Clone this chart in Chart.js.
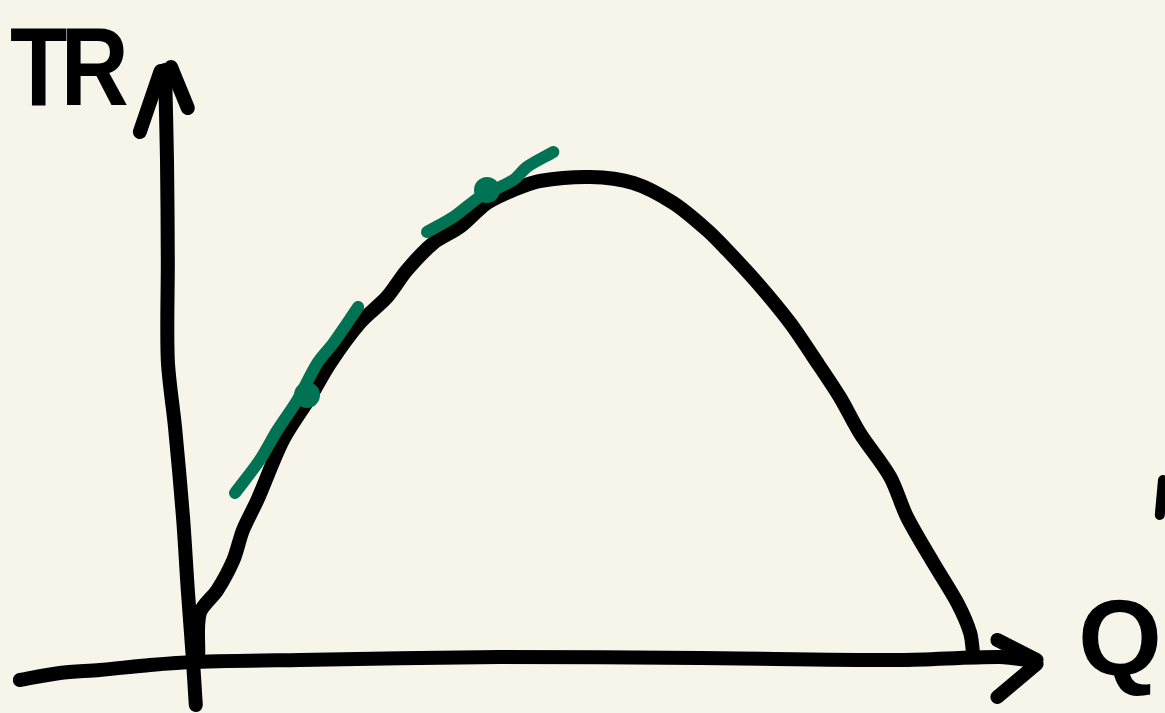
<!DOCTYPE html>
<html>
<head>
<meta charset="utf-8">
<title>Total revenue</title>
<script src="https://cdn.jsdelivr.net/npm/chart.js@4"></script>
<style>
  html, body { margin: 0; padding: 0; background: #f7f5e9; overflow: hidden; }
  .wrap { position: relative; width: 1165px; height: 713px; }
  canvas { position: absolute; left: 0; top: 0; }
  .lbl {
    position: absolute;
    font-family: "Liberation Sans", Arial, sans-serif;
    font-weight: bold;
    line-height: 1;
    color: #000;
    white-space: nowrap;
    transform-origin: left top;
  }
  #lblTR { left: 10px; top: 11px; font-size: 112px; letter-spacing: -8px; transform: scaleX(0.84); }
  #lblQ  { left: 1078px; top: 584px; font-size: 108px; }
</style>
</head>
<body>
<div class="wrap">
  <canvas id="chart" width="1165" height="713"></canvas>
  <div class="lbl" id="lblTR">TR</div>
  <div class="lbl" id="lblQ">Q</div>
</div>
<script>
// ── Data (Q along x, TR along y) ──────────────
const trCurveQ  = [0.04, 0.06, 0.28, 0.48, 0.6, 0.78, 1.1, 1.44, 1.69, 2.06, 2.4, 2.65, 2.98, 3.31, 3.65, 3.98, 4.31, 4.94, 5.48, 5.98, 6.4, 6.65, 7.03, 7.44, 7.73, 8.06, 8.31, 8.69, 8.9, 9.23, 9.53, 9.69, 9.73];
const trCurveTR = [0.35, 2.45, 3.6, 5.1, 6.6, 8.1, 11.1, 13.25, 14.95, 16.95, 18.25, 19.6, 20.95, 21.75, 22.95, 23.6, 24.05, 24.25, 23.95, 22.95, 21.6, 20.6, 18.95, 16.95, 15.25, 13.25, 11.45, 9.25, 7.25, 4.95, 2.95, 1.45, 0.25];

// tangent lines (green) and their touching points
const tangent1Q  = [0.5, 0.81, 1.03, 1.28, 1.53, 1.73, 2.04];
const tangent1TR = [8.45, 10.1, 11.6, 13.1, 14.95, 15.95, 17.75];
const tangent2Q  = [2.9, 3.23, 3.56, 3.98, 4.15, 4.48];
const tangent2TR = [21.5, 22.25, 23.25, 24.1, 24.75, 25.5];
const touchQ  = [1.4, 3.65];
const touchTR = [13.35, 23.6];

// hand-drawn axes
const yAxisQ  = [0.01, -0.03, -0.09, -0.15, -0.25, -0.34, -0.34, -0.35, -0.375];
const yAxisTR = [-2.15, 0.35, 3.6, 7.25, 11.75, 15.1, 20.1, 25.1, 29.6];
const yArrowLeftQ  = [-0.69, -0.43];
const yArrowLeftTR = [26.5, 29.55];
const yArrowRightQ  = [-0.09, -0.3];
const yArrowRightTR = [27.7, 29.75];

const xAxisQ  = [-2.19, -1.69, -1.19, -0.56, 0, 1.31, 3.81, 6.31, 8.81, 10.06, 10.5];
const xAxisTR = [-0.9, -0.55, -0.4, -0.15, 0, 0.1, 0.25, 0.2, 0.1, 0.25, 0.05];
const xArrowUpQ  = [10.03, 10.52];
const xArrowUpTR = [1.1, 0.1];
const xArrowDownQ  = [10.03, 10.52];
const xArrowDownTR = [-1.75, -0.1];

// stray pen mark at the right edge
const strayQ  = [12.1, 12.06];
const strayTR = [9.1, 7.35];

const INK = '#000000';
const GREEN = '#007354';

function pts(xs, ys) {
  return xs.map((x, i) => ({ x, y: ys[i] }));
}

// lower `order` is drawn on top
function stroke(xs, ys, color, width, tension, order) {
  return {
    data: pts(xs, ys),
    order,
    showLine: true,
    borderColor: color,
    borderWidth: width,
    borderCapStyle: 'round',
    borderJoinStyle: 'round',
    tension: tension,
    pointRadius: 0,
    pointHoverRadius: 0,
    fill: false
  };
}

// ── Chart ─────────────────────────────────────
new Chart(document.getElementById('chart'), {
  type: 'scatter',
  data: {
    datasets: [
      stroke(xAxisQ, xAxisTR, INK, 14, 0.3, 3),
      stroke(xArrowUpQ, xArrowUpTR, INK, 14, 0, 3),
      stroke(xArrowDownQ, xArrowDownTR, INK, 14, 0, 3),
      stroke(yAxisQ, yAxisTR, INK, 14, 0.3, 3),
      stroke(yArrowLeftQ, yArrowLeftTR, INK, 14, 0, 3),
      stroke(yArrowRightQ, yArrowRightTR, INK, 14, 0, 3),
      stroke(trCurveQ, trCurveTR, INK, 14, 0.3, 2),
      stroke(tangent1Q, tangent1TR, GREEN, 12, 0.3, 1),
      stroke(tangent2Q, tangent2TR, GREEN, 12, 0.3, 1),
      stroke(strayQ, strayTR, INK, 10, 0, 3),
      {
        data: pts(touchQ, touchTR),
        order: 0,
        showLine: false,
        pointRadius: 13,
        pointHoverRadius: 13,
        pointBackgroundColor: GREEN,
        pointBorderWidth: 0
      }
    ]
  },
  options: {
    responsive: false,
    devicePixelRatio: 1,
    animation: false,
    clip: false,
    layout: { padding: 0, autoPadding: false },
    plugins: {
      legend: { display: false },
      tooltip: { enabled: false }
    },
    scales: {
      x: { type: 'linear', display: false, min: -2.4375, max: 12.125 },
      y: { type: 'linear', display: false, min: -2.55, max: 33.1 }
    }
  }
});
</script>
</body>
</html>
